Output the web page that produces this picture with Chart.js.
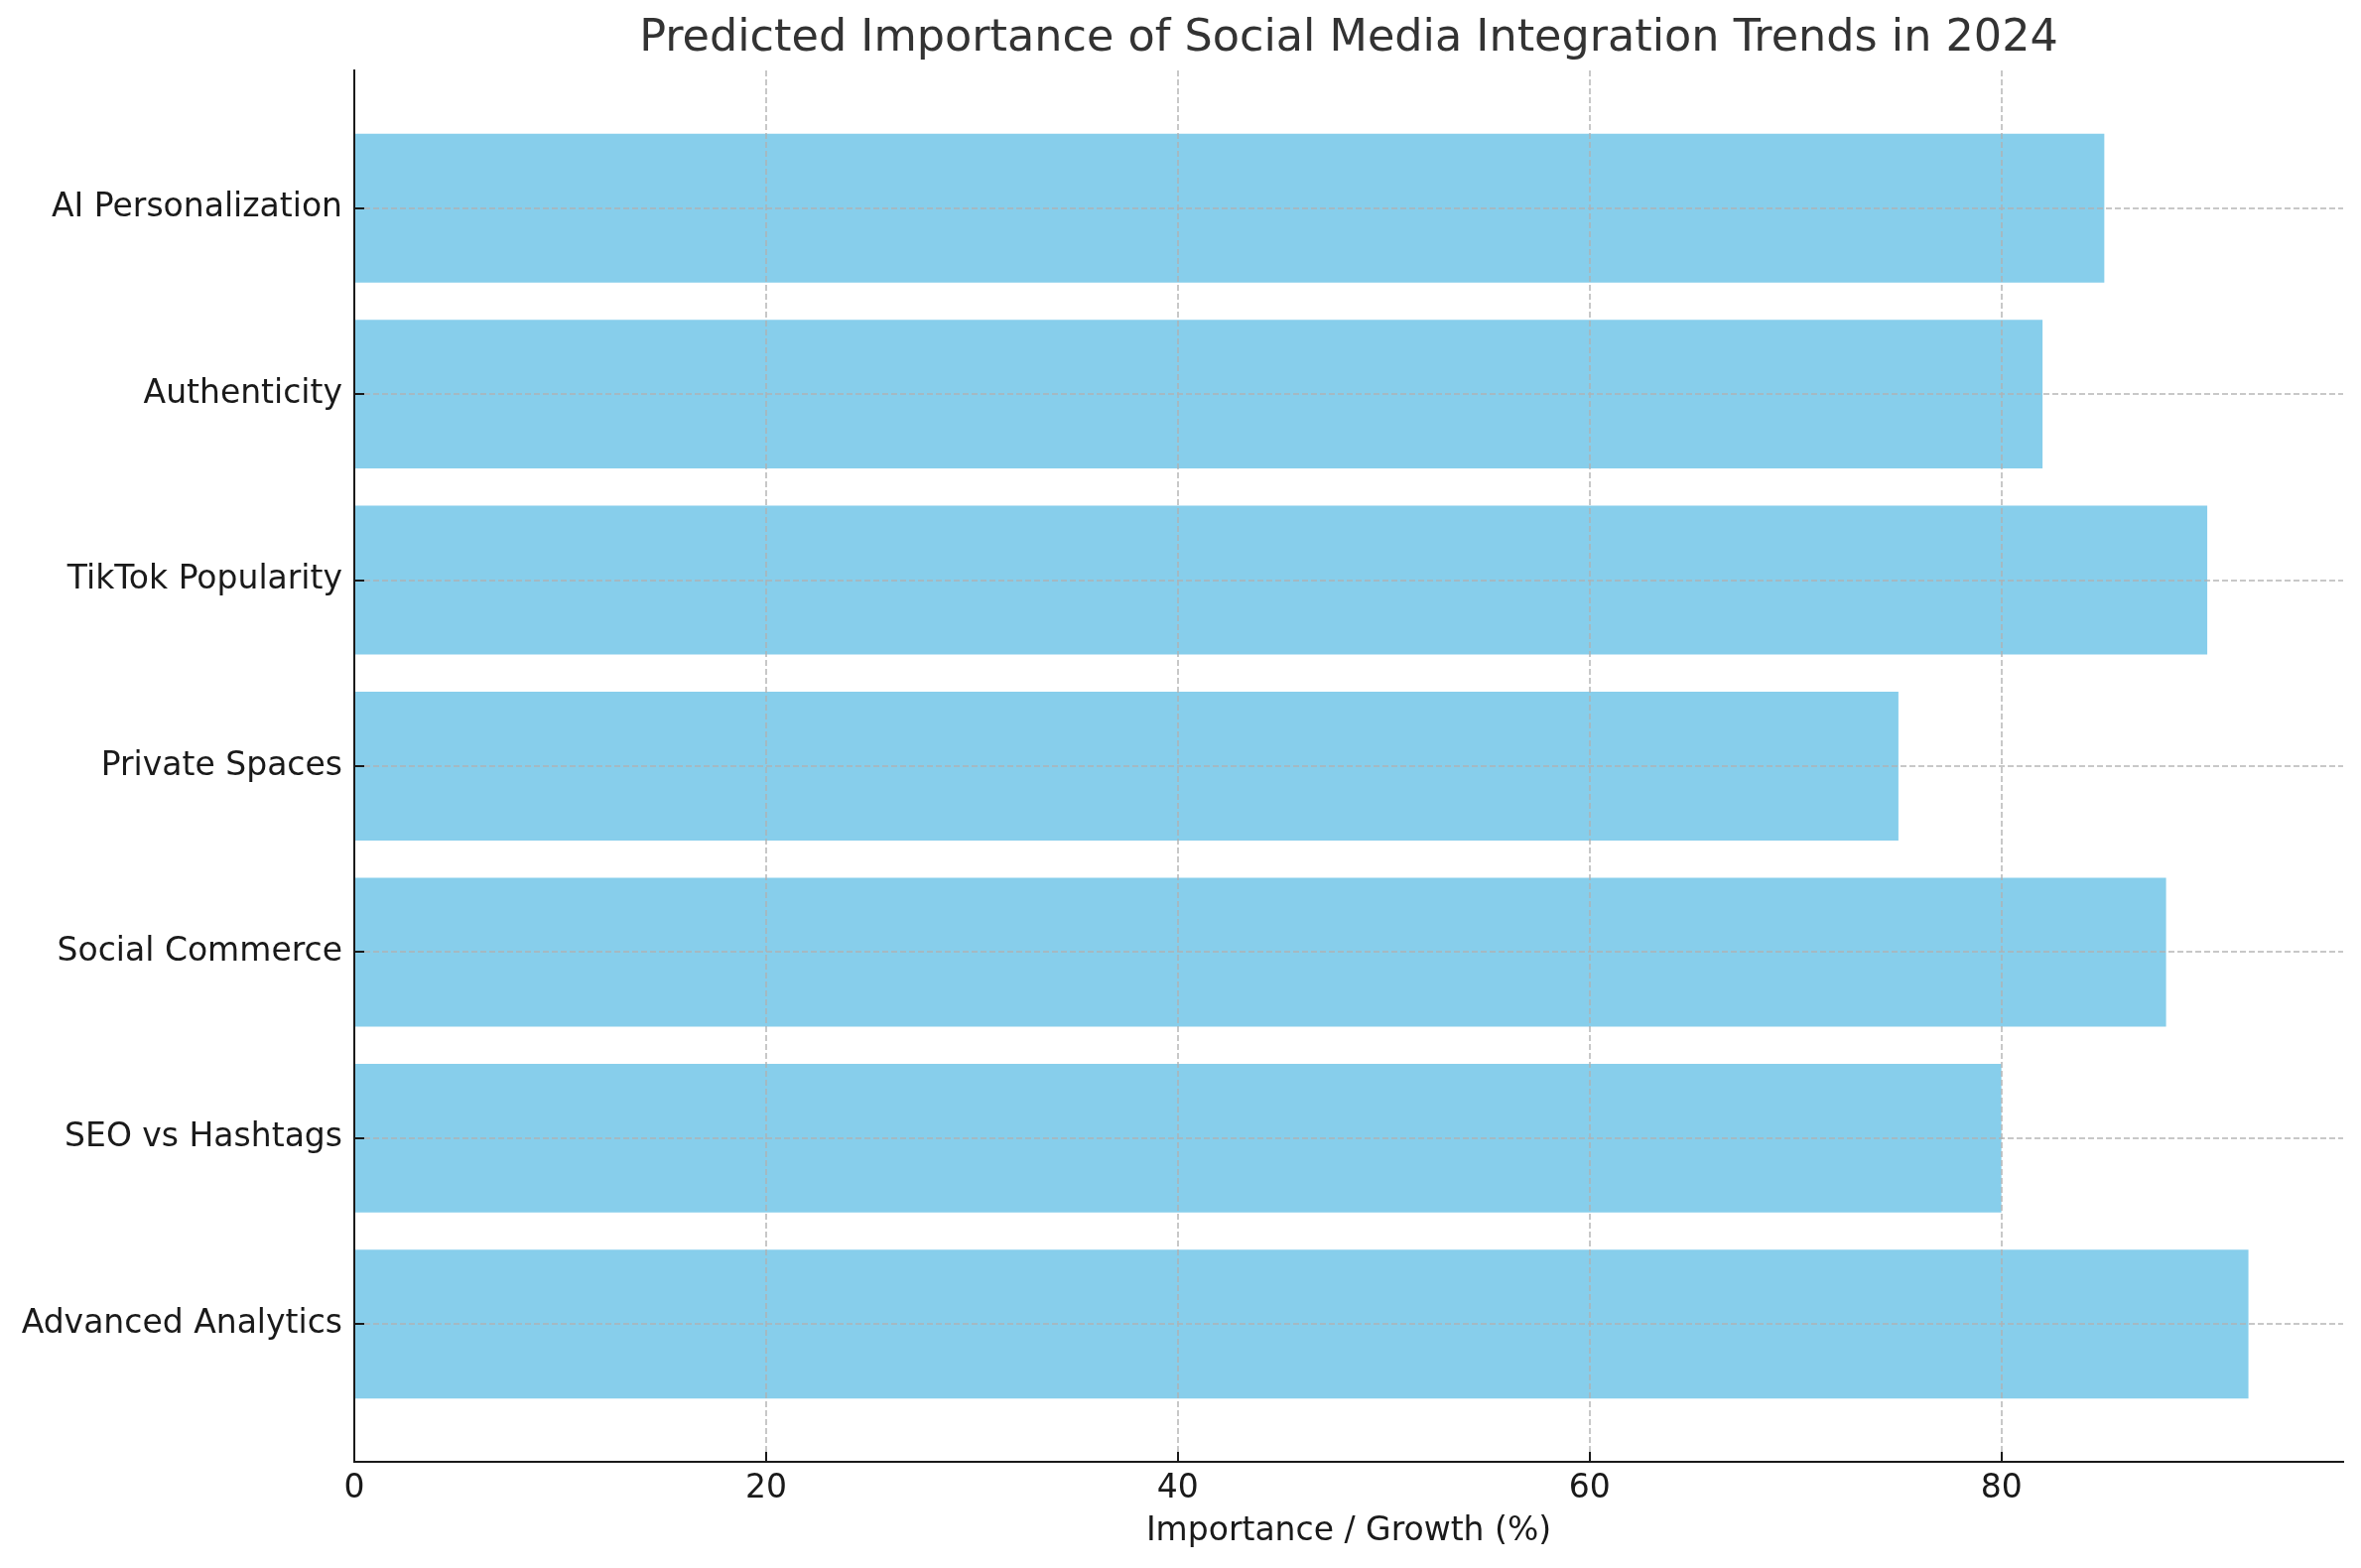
<!DOCTYPE html>
<html>
<head>
<meta charset="utf-8">
<script src="https://cdn.jsdelivr.net/npm/chart.js@4"></script>
<style>
  html, body { margin: 0; padding: 0; background: #ffffff; }
  #c { display: block; }
</style>
</head>
<body>
<canvas id="c" width="2379" height="1580"></canvas>
<script>
// Categories listed bottom-to-top (as in the original horizontal bar chart)
const categories = [
  "Advanced Analytics",
  "SEO vs Hashtags",
  "Social Commerce",
  "Private Spaces",
  "TikTok Popularity",
  "Authenticity",
  "AI Personalization"
];
const importanceValues = [92, 80, 88, 75, 90, 82, 85];
const xTickValues = [0, 20, 40, 60, 80];
const xAxisMax = 96.6;
const titleText = "Predicted Importance of Social Media Integration Trends in 2024";
const xAxisTitle = "Importance / Growth (%)";

const FONT = "'DejaVu Sans', 'Liberation Sans', sans-serif";
const GRID = "rgba(176,176,176,0.7)";
const DARK = "#1a1a1a";

const dataPoints = categories.map((c, i) => ({ x: importanceValues[i], y: i }));

const innerTicks = {
  id: 'innerTicks',
  afterDraw(chart) {
    const ctx = chart.ctx;
    const xs = chart.scales.x, ys = chart.scales.y;
    const area = chart.chartArea;
    ctx.save();
    ctx.setLineDash([]);
    ctx.strokeStyle = DARK;
    ctx.lineWidth = 2;
    ctx.beginPath();
    xs.ticks.forEach(t => {
      const px = Math.round(xs.getPixelForValue(t.value));
      ctx.moveTo(px, area.bottom);
      ctx.lineTo(px, area.bottom - 10);
    });
    ys.ticks.forEach(t => {
      const py = Math.round(ys.getPixelForValue(t.value));
      ctx.moveTo(area.left, py);
      ctx.lineTo(area.left + 10, py);
    });
    ctx.stroke();
    ctx.restore();
  }
};

new Chart(document.getElementById('c'), {
  type: 'bar',
  data: {
    datasets: [{
      data: dataPoints,
      backgroundColor: '#87CEEB',
      borderWidth: 0,
      categoryPercentage: 1.0,
      barPercentage: 0.8
    }]
  },
  options: {
    indexAxis: 'y',
    responsive: false,
    animation: false,
    devicePixelRatio: 1,
    layout: { padding: { left: 0, right: 18, top: 0, bottom: 0 } },
    plugins: {
      legend: { display: false },
      tooltip: { enabled: false },
      title: {
        display: true,
        text: titleText,
        fullSize: false,
        color: '#333333',
        font: { family: FONT, size: 44.5, weight: 'normal', lineHeight: 1.2 },
        padding: { top: 13, bottom: 4.6 }
      }
    },
    scales: {
      x: {
        type: 'linear',
        min: 0,
        max: xAxisMax,
        offset: false,
        afterBuildTicks: (axis) => { axis.ticks = xTickValues.map(v => ({ value: v })); },
        afterFit: (axis) => { axis.height = 107; },
        grid: { color: GRID, lineWidth: 2, drawTicks: false, offset: false, z: 1 },
        border: { display: true, color: DARK, width: 2, dash: [6, 3], z: 2 },
        ticks: {
          color: DARK,
          padding: 8,
          font: { family: FONT, size: 33 },
          callback: (v) => String(v)
        },
        title: {
          display: true,
          text: xAxisTitle,
          color: DARK,
          font: { family: FONT, size: 33, lineHeight: 1.2 },
          padding: { top: 0, bottom: 17 }
        }
      },
      y: {
        type: 'linear',
        min: -0.74,
        max: 6.74,
        offset: false,
        afterBuildTicks: (axis) => { axis.ticks = categories.map((c, i) => ({ value: i })); },
        afterFit: (axis) => { axis.width = 357; },
        grid: { color: GRID, lineWidth: 2, drawTicks: false, offset: false, z: 1 },
        border: { display: true, color: DARK, width: 2, dash: [6, 3], z: 2 },
        ticks: {
          color: DARK,
          padding: 12,
          font: { family: FONT, size: 33 },
          callback: (v) => categories[v] !== undefined ? categories[v] : ''
        }
      }
    }
  },
  plugins: [innerTicks]
});
</script>
</body>
</html>
